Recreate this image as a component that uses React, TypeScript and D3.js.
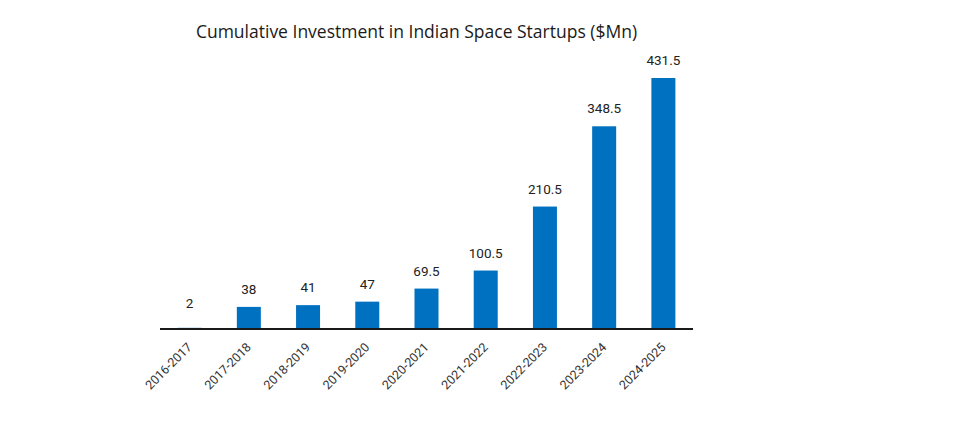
import React from "react";
import * as d3 from "d3";

const categories = ["2016-2017", "2017-2018", "2018-2019", "2019-2020", "2020-2021", "2021-2022", "2022-2023", "2023-2024", "2024-2025"];
const values = [2, 38, 41, 47, 69.5, 100.5, 210.5, 348.5, 431.5];
const valueLabels = ["2", "38", "41", "47", "69.5", "100.5", "210.5", "348.5", "431.5"];
const title = "Cumulative Investment in Indian Space Startups ($Mn)";

const W = 960;
const H = 437;
const left = 160;
const right = 693;
const baseline = 329;
const topY = 78;

export default function App() {
  const pi = 1 - 24 / ((right - left) / categories.length);
  const x = d3.scaleBand<string>().domain(categories).range([left, right]).paddingInner(pi).paddingOuter(pi / 2);
  const y = d3.scaleLinear().domain([0, 431.5]).range([baseline, topY]);
  return (
    <svg width={W} height={H} style={{ position: "absolute", left: 0, top: 0 }} fontFamily="Roboto, sans-serif">
      <rect width={W} height={H} fill="#fff" />
      <text x={416.5} y={38} textAnchor="middle" fontSize={17.5} fill="#1a1a1a" fontFamily="'Open Sans', sans-serif">{title}</text>
      {categories.map((c, i) => {
        const cx = (x(c) as number) + x.bandwidth() / 2;
        const top = y(values[i]);
        const ly = Math.min(top - 13, baseline - 21);
        return (
          <g key={c}>
            <rect x={x(c)} y={top} width={x.bandwidth()} height={baseline - top} fill="#0070C0" />
            <text x={cx} y={ly} textAnchor="middle" fontSize={13.5} fill="#222">{valueLabels[i]}</text>
            <text transform={`translate(${cx + 3},${348}) rotate(-45)`} textAnchor="end" fontSize={12.5} fill="#333">{c}</text>
          </g>
        );
      })}
      <line x1={left} x2={right} y1={baseline} y2={baseline} stroke="#1a1a1a" strokeWidth={2} />
    </svg>
  );
}
